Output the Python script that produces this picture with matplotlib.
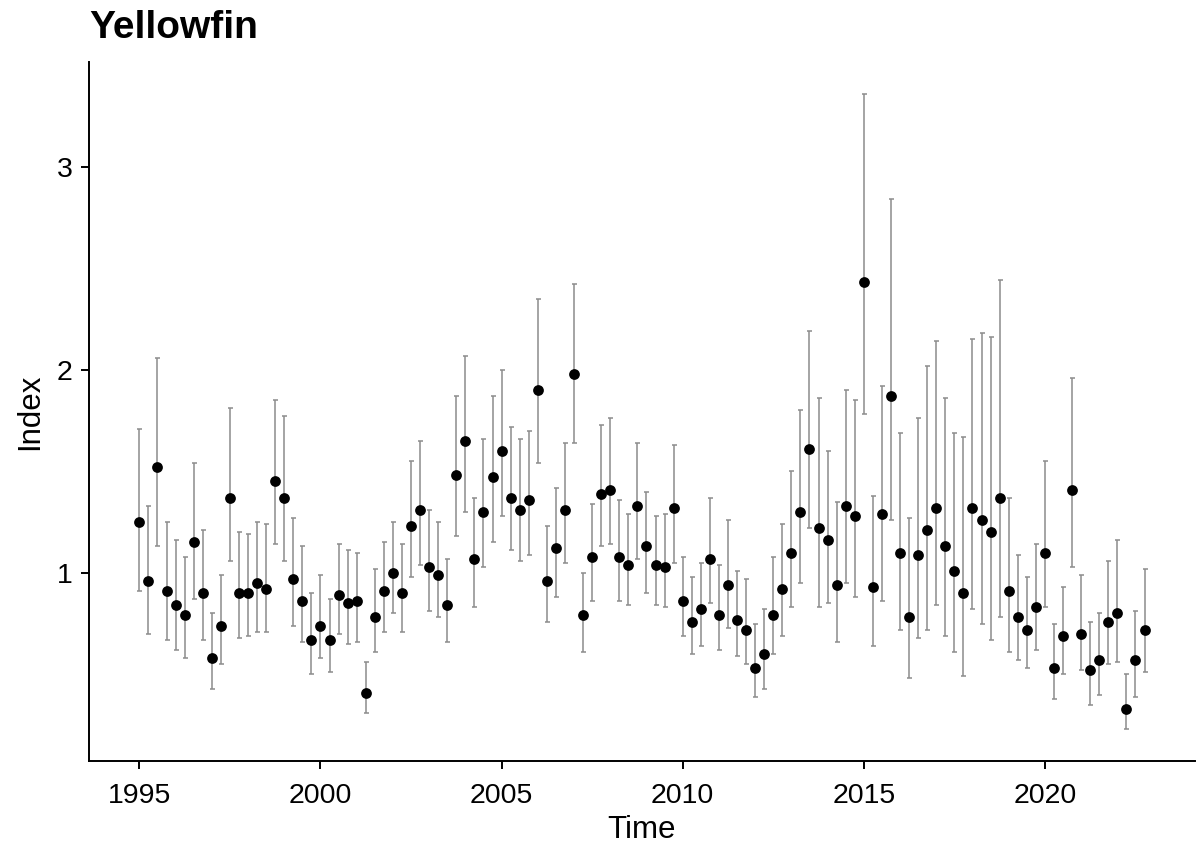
import numpy as np
import matplotlib
matplotlib.use("Agg")
import matplotlib.pyplot as plt

plt.rcParams['font.family'] = ['Liberation Sans', 'DejaVu Sans']

# Quarterly index, 1995 Q1 to 2022 Q4
years = list(range(1995, 2023))
quarter_offsets = [0.0, 0.25, 0.5, 0.75]
time = np.array([y + q for y in years for q in quarter_offsets])

index = [
    1.25, 0.96, 1.52, 0.91, 0.84, 0.79, 1.15, 0.90, 0.58, 0.74, 1.37, 0.90,
    0.90, 0.95, 0.92, 1.45, 1.37, 0.97, 0.86, 0.67, 0.74, 0.67, 0.89, 0.85,
    0.86, 0.41, 0.78, 0.91, 1.00, 0.90, 1.23, 1.31, 1.03, 0.99, 0.84, 1.48,
    1.65, 1.07, 1.30, 1.47, 1.60, 1.37, 1.31, 1.36, 1.90, 0.96, 1.12, 1.31,
    1.98, 0.79, 1.08, 1.39, 1.41, 1.08, 1.04, 1.33, 1.13, 1.04, 1.03, 1.32,
    0.86, 0.76, 0.82, 1.07, 0.79, 0.94, 0.77, 0.72, 0.53, 0.60, 0.79, 0.92,
    1.10, 1.30, 1.61, 1.22, 1.16, 0.94, 1.33, 1.28, 2.43, 0.93, 1.29, 1.87,
    1.10, 0.78, 1.09, 1.21, 1.32, 1.13, 1.01, 0.90, 1.32, 1.26, 1.20, 1.37,
    0.91, 0.78, 0.72, 0.83, 1.10, 0.53, 0.69, 1.41, 0.70, 0.52, 0.57, 0.76,
    0.80, 0.33, 0.57, 0.72,
]

lower = [
    0.91, 0.70, 1.13, 0.67, 0.62, 0.58, 0.87, 0.67, 0.43, 0.55, 1.06, 0.68,
    0.69, 0.71, 0.71, 1.14, 1.06, 0.74, 0.66, 0.50, 0.58, 0.51, 0.70, 0.65,
    0.66, 0.31, 0.61, 0.71, 0.80, 0.71, 0.98, 1.04, 0.81, 0.78, 0.66, 1.18,
    1.30, 0.83, 1.03, 1.15, 1.28, 1.11, 1.06, 1.09, 1.54, 0.76, 0.88, 1.05,
    1.64, 0.61, 0.86, 1.13, 1.14, 0.86, 0.84, 1.07, 0.90, 0.84, 0.83, 1.05,
    0.69, 0.60, 0.64, 0.85, 0.62, 0.73, 0.59, 0.55, 0.39, 0.43, 0.60, 0.69,
    0.83, 0.95, 1.22, 0.83, 0.85, 0.66, 0.95, 0.88, 1.78, 0.64, 0.86, 1.26,
    0.72, 0.48, 0.68, 0.72, 0.84, 0.69, 0.61, 0.49, 0.82, 0.75, 0.67, 0.78,
    0.61, 0.57, 0.53, 0.62, 0.83, 0.38, 0.50, 1.03, 0.52, 0.35, 0.40, 0.55,
    0.56, 0.23, 0.39, 0.51,
]

upper = [
    1.71, 1.33, 2.06, 1.25, 1.16, 1.08, 1.54, 1.21, 0.80, 0.99, 1.81, 1.20,
    1.19, 1.25, 1.24, 1.85, 1.77, 1.27, 1.13, 0.90, 0.99, 0.87, 1.14, 1.11,
    1.10, 0.56, 1.02, 1.15, 1.25, 1.14, 1.55, 1.65, 1.31, 1.25, 1.07, 1.87,
    2.07, 1.37, 1.66, 1.87, 2.00, 1.72, 1.66, 1.70, 2.35, 1.23, 1.42, 1.64,
    2.42, 1.00, 1.34, 1.73, 1.76, 1.36, 1.29, 1.64, 1.40, 1.28, 1.29, 1.63,
    1.08, 0.98, 1.05, 1.37, 1.04, 1.26, 1.01, 0.97, 0.75, 0.82, 1.08, 1.24,
    1.50, 1.80, 2.19, 1.86, 1.60, 1.35, 1.90, 1.85, 3.36, 1.38, 1.92, 2.84,
    1.69, 1.27, 1.76, 2.02, 2.14, 1.86, 1.69, 1.67, 2.15, 2.18, 2.16, 2.44,
    1.37, 1.09, 0.98, 1.14, 1.55, 0.75, 0.93, 1.96, 0.99, 0.76, 0.80, 1.06,
    1.16, 0.50, 0.81, 1.02,
]

x_ticks = [1995, 2000, 2005, 2010, 2015, 2020]
y_ticks = [1, 2, 3]

index = np.array(index)
lower = np.array(lower)
upper = np.array(upper)

fig = plt.figure(figsize=(11.96, 8.46), dpi=100)
ax = fig.add_axes([0.0745, 0.1005, 0.9245, 0.8265])

ax.errorbar(time, index, yerr=[index - lower, upper - index], fmt='none',
            ecolor='#8c8c8c', elinewidth=1.1, capsize=1.8, capthick=1.1,
            zorder=2)
ax.scatter(time, index, s=60, color='black', zorder=3, linewidths=0)

# ggplot-style 5% expansion around the data range
x_lo, x_hi = time.min(), time.max()
y_lo, y_hi = lower.min(), upper.max()
ax.set_xlim(x_lo - 0.05 * (x_hi - x_lo), x_hi + 0.05 * (x_hi - x_lo))
ax.set_ylim(y_lo - 0.05 * (y_hi - y_lo), y_hi + 0.05 * (y_hi - y_lo))

ax.set_xticks(x_ticks)
ax.set_yticks(y_ticks)
ax.set_xticklabels([str(t) for t in x_ticks])
ax.set_yticklabels([str(t) for t in y_ticks])

for side in ['top', 'right']:
    ax.spines[side].set_visible(False)
for side in ['left', 'bottom']:
    ax.spines[side].set_linewidth(1.4)
    ax.spines[side].set_color('black')

ax.tick_params(axis='both', which='major', length=6, width=1.4,
               color='black', labelsize=20.5, labelcolor='black')
ax.tick_params(axis='x', pad=10)
ax.tick_params(axis='y', pad=6)

ax.set_xlabel('Time', fontsize=22.5, labelpad=4)
ax.set_ylabel('Index', fontsize=22.5, labelpad=8)

fig.text(0.0745, 1 - 38 / 846, 'Yellowfin', fontsize=28, fontweight='bold',
         ha='left', va='baseline')

fig.savefig('out.png', dpi=100)
